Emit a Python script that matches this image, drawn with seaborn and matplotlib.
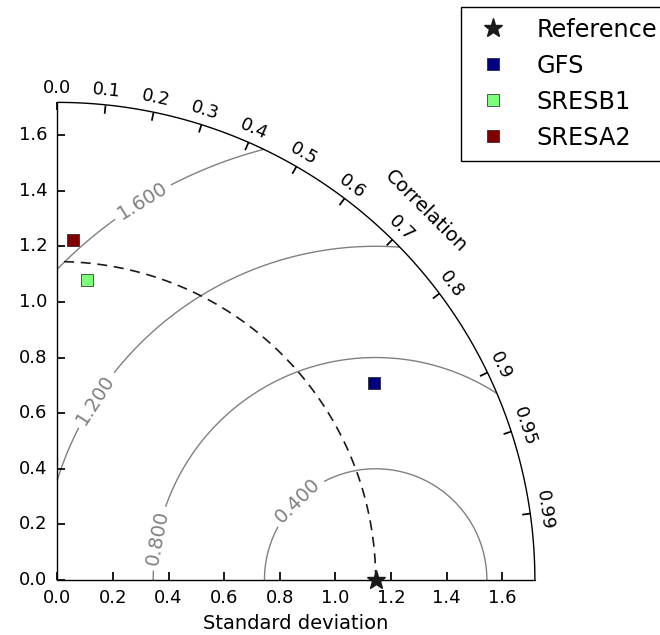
import numpy as np
import matplotlib
matplotlib.use("Agg")
import matplotlib.pyplot as plt
from matplotlib.lines import Line2D
from matplotlib.projections import PolarAxes
import mpl_toolkits.axisartist.floating_axes as fa
import mpl_toolkits.axisartist.grid_finder as gf
import pandas as pd
import seaborn as sns

# Values
REF_STD = 1.145
SAMPLE_NAMES = ["GFS", "SRESB1", "SRESA2"]
SAMPLE_STD = [1.343, 1.084, 1.224]
SAMPLE_CORR = [0.849, 0.098, 0.045]
CORR_TICKS = [0.0, 0.1, 0.2, 0.3, 0.4, 0.5, 0.6, 0.7, 0.8, 0.9, 0.95, 0.99]
STD_TICKS = [0.0, 0.2, 0.4, 0.6, 0.8, 1.0, 1.2, 1.4, 1.6]
RMS_LEVELS = [0.4, 0.8, 1.2, 1.6]
# rough (x, y) spots where the contour labels sit
RMS_LABEL_SPOTS = [(0.87, 0.28), (0.36, 0.15), (0.15, 0.64), (0.32, 1.34)]

sns.set_theme(style="white", rc={
    "text.color": "black",
    "axes.labelcolor": "black",
    "axes.edgecolor": "black",
    "axes.linewidth": 1.0,
    "xtick.color": "black",
    "ytick.color": "black",
})
plt.rcParams["font.family"] = ["DejaVu Sans"]

smax = 1.5 * REF_STD
tmax = np.pi / 2

tr = PolarAxes.PolarTransform()
tlocs = np.arccos(CORR_TICKS)
ghelper = fa.GridHelperCurveLinear(
    tr,
    extremes=(0, tmax, 0, smax),
    grid_locator1=gf.FixedLocator(tlocs),
    tick_formatter1=gf.DictFormatter(dict(zip(tlocs, map(str, CORR_TICKS)))),
    grid_locator2=gf.FixedLocator(STD_TICKS),
    tick_formatter2=gf.DictFormatter({v: f"{v:.1f}" for v in STD_TICKS}),
)

# floating axes pads its limits by 2 %, so the box is a bit bigger than the quadrant
fig = plt.figure(figsize=(6.6, 6.35), dpi=100)
ax = fig.add_axes([0.0795, 0.0791, 0.7382, 0.7672],
                  axes_class=fa.FloatingAxes, grid_helper=ghelper)

ax.axis["top"].set_axis_direction("bottom")
ax.axis["top"].toggle(ticklabels=True, label=True)
ax.axis["top"].major_ticklabels.set_axis_direction("top")
ax.axis["top"].label.set_axis_direction("top")
ax.axis["top"].label.set_text("Correlation")
ax.axis["left"].set_axis_direction("bottom")
ax.axis["left"].label.set_text("Standard deviation")
ax.axis["right"].set_axis_direction("top")
ax.axis["right"].toggle(ticklabels=True)
ax.axis["right"].major_ticklabels.set_axis_direction("left")
ax.axis["bottom"].set_visible(False)
for name in ["top", "left", "right"]:
    ax.axis[name].major_ticklabels.set_fontsize(13)
    ax.axis[name].major_ticklabels.set_pad(7)
    ax.axis[name].label.set_fontsize(14)
    ax.axis[name].label.set_pad(8)
    ax.axis[name].major_ticks.set_ticksize(6)
    ax.axis[name].line.set_linewidth(1.0)

aux = ax.get_aux_axes(tr)

# RMS difference contours
rs, ts = np.meshgrid(np.linspace(0, smax, 100), np.linspace(0, tmax, 100))
rms = np.sqrt(REF_STD ** 2 + rs ** 2 - 2 * REF_STD * rs * np.cos(ts))
cs = aux.contour(ts, rs, rms, levels=RMS_LEVELS, colors="0.5", linewidths=1.0)
spots = [(np.arctan2(y, x), np.hypot(x, y)) for x, y in RMS_LABEL_SPOTS]
aux.clabel(cs, inline=True, fontsize=14, fmt="%.3f", manual=spots)

# reference std arc
t = np.linspace(0, tmax, 100)
aux.plot(t, np.full_like(t, REF_STD), color="k", ls="--", lw=1.2, dashes=(6, 4))

colors = plt.cm.jet(np.linspace(0, 1, len(SAMPLE_NAMES)))
palette = dict(zip(SAMPLE_NAMES, colors))
df = pd.DataFrame({
    "model": SAMPLE_NAMES,
    "theta": np.arccos(SAMPLE_CORR),
    "std": SAMPLE_STD,
})
sns.scatterplot(data=df, x="theta", y="std", hue="model", palette=palette,
                marker="s", s=75, edgecolor="k", linewidth=0.5,
                legend=False, ax=aux, zorder=5, clip_on=False)
aux.plot([0], [REF_STD], "k*", ms=14, clip_on=False, zorder=6)

handles = [Line2D([], [], marker="*", ls="", color="k", ms=14)]
for name in SAMPLE_NAMES:
    handles.append(Line2D([], [], marker="s", ls="", color=palette[name],
                          ms=8.5, mec="k", mew=0.5))
fig.legend(handles, ["Reference"] + SAMPLE_NAMES, numpoints=1,
           loc="upper left", bbox_to_anchor=(461 / 660, 1 - 7 / 635),
           borderaxespad=0, fontsize=17.28, fancybox=False, framealpha=1,
           edgecolor="black", handlelength=1.75, handletextpad=0.95,
           labelspacing=0.5, borderpad=0.45)

fig.savefig("out.png", dpi=100)
